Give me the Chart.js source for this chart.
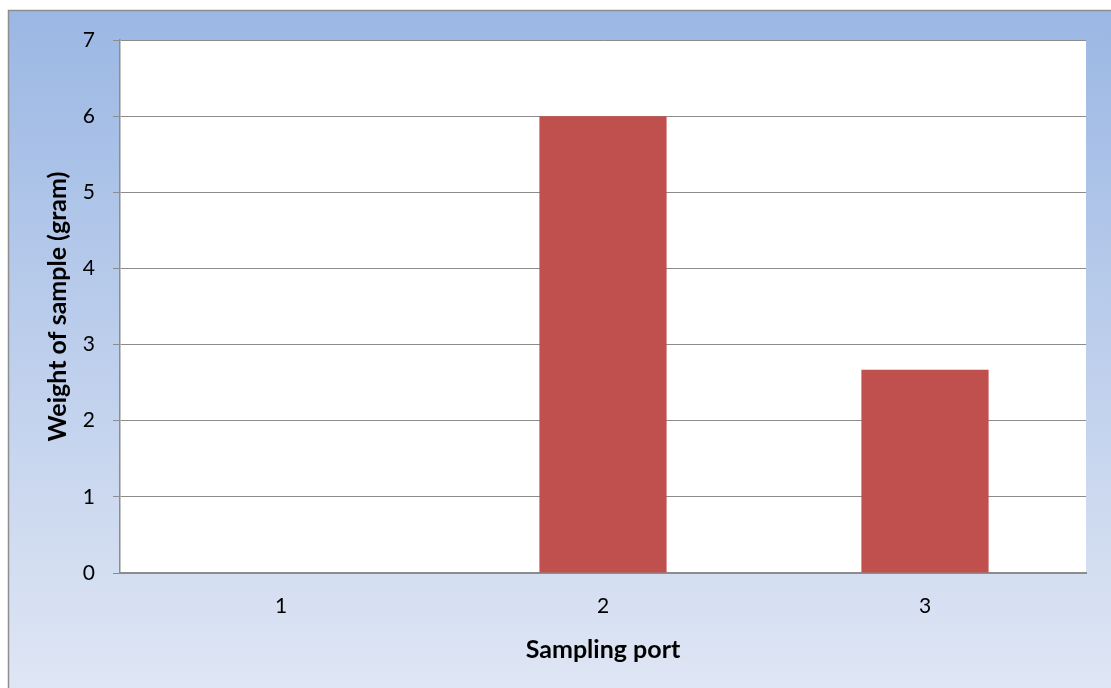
<!DOCTYPE html>
<html>
<head>
<meta charset="utf-8">
<script src="https://cdn.jsdelivr.net/npm/chart.js"></script>
<style>
  html, body { margin: 0; padding: 0; background: #fff; }
  #wrap { width: 1111px; height: 688px; }
</style>
</head>
<body>
<div id="wrap"><canvas id="graficoAmostras" width="1111" height="688"></canvas></div>
<script>
// data
const categorias = ['1', '2', '3'];
const pesoAmostra = [0, 6, 2.67];
const ticksY = [0, 1, 2, 3, 4, 5, 6, 7];

// panel background: blue gradient with a grey frame, white plot area
const fundoPainel = {
  id: 'fundoPainel',
  beforeDraw(chart) {
    const { ctx, width, height, chartArea } = chart;
    ctx.save();
    ctx.fillStyle = '#ffffff';
    ctx.fillRect(0, 0, width, height);
    const grad = ctx.createLinearGradient(0, 10, 0, height);
    grad.addColorStop(0, '#9bb7e4');
    grad.addColorStop(1, '#dfe6f4');
    ctx.fillStyle = grad;
    ctx.fillRect(8, 10, width, height);
    ctx.strokeStyle = '#8e8e8e';
    ctx.lineWidth = 1.5;
    ctx.beginPath();
    ctx.moveTo(8.5, height + 2);
    ctx.lineTo(8.5, 10.5);
    ctx.lineTo(width + 2, 10.5);
    ctx.stroke();
    ctx.fillStyle = '#ffffff';
    ctx.fillRect(chartArea.left, chartArea.top, chartArea.right - chartArea.left, chartArea.bottom - chartArea.top);
    ctx.restore();
  }
};

window.addEventListener('DOMContentLoaded', () => {
  const ctx = document.getElementById('graficoAmostras').getContext('2d');

  new Chart(ctx, {
    type: 'bar',
    data: {
      labels: categorias,
      datasets: [{
        data: pesoAmostra,
        backgroundColor: '#c0504d',
        borderWidth: 0,
        barPercentage: 0.395,
        categoryPercentage: 1
      }]
    },
    options: {
      responsive: false,
      animation: false,
      layout: { padding: { top: 40, right: 25, left: 0, bottom: 0 } },
      plugins: {
        legend: { display: false },
        tooltip: { enabled: false }
      },
      scales: {
        x: {
          afterFit: (scale) => { scale.height = 115; },
          grid: { display: false, drawTicks: false },
          border: { display: true, color: '#8c8c8c', width: 2 },
          ticks: { color: '#000', padding: 21, font: { family: 'Lato', size: 21 } },
          title: {
            display: true,
            text: 'Sampling port',
            color: '#000',
            padding: { top: 0, bottom: 23 },
            font: { family: 'Lato', size: 25, weight: 'bold' }
          }
        },
        y: {
          min: 0,
          max: 7,
          afterFit: (scale) => { scale.width = 120; },
          afterBuildTicks: (scale) => { scale.ticks = ticksY.map(v => ({ value: v })); },
          grid: { color: '#8c8c8c', lineWidth: 1, tickLength: 7, drawTicks: true },
          border: { display: true, color: '#8c8c8c', width: 1.5 },
          ticks: { color: '#000', padding: 18, font: { family: 'Lato', size: 21 } },
          title: {
            display: true,
            text: 'Weight of sample (gram)',
            color: '#000',
            padding: { top: 43, bottom: 0 },
            font: { family: 'Lato', size: 25, weight: 'bold' }
          }
        }
      }
    },
    plugins: [fundoPainel]
  });
});
</script>
</body>
</html>
